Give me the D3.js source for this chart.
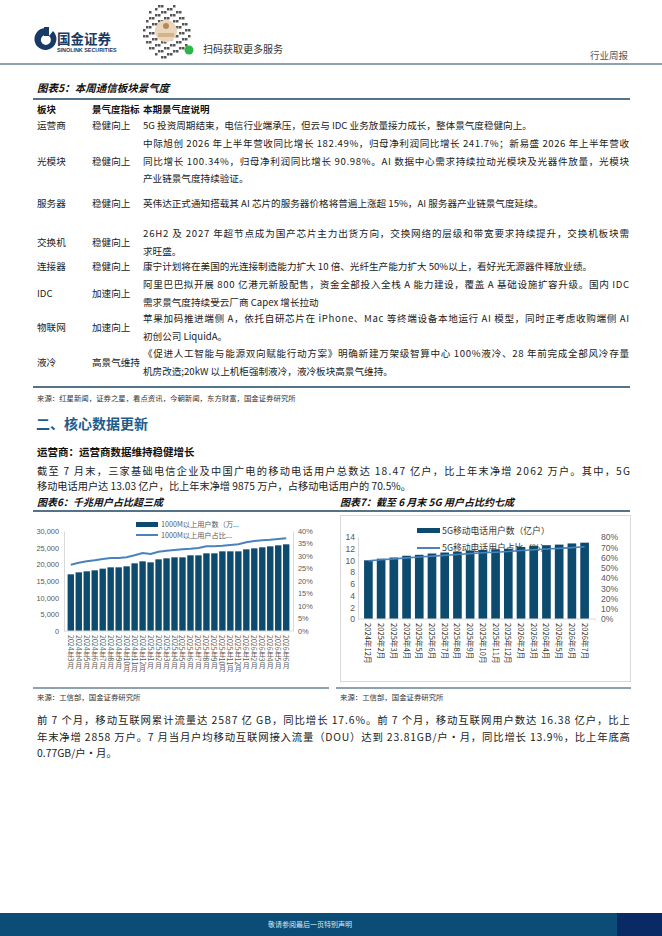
<!DOCTYPE html>
<html lang="zh">
<head>
<meta charset="UTF-8">
<title>行业周报</title>
<script src="https://d3js.org/d3.v7.min.js"></script>
<style>
  body { margin: 0; background: #fff; }
  svg { display: block; font-family: "Noto Sans CJK SC", "Noto Sans", sans-serif; }
  .body { font-size: 9.6px; fill: #222; }
  .tick text { fill: #595959; }
</style>
</head>
<body>
<svg id="page" width="662" height="936"></svg>
<script>
// ---- data: 图表6 千兆用户 ----
const months6 = ["2024年3月","2024年4月","2024年5月","2024年6月","2024年7月","2024年8月","2024年9月","2024年10月","2024年11月","2024年12月",
  "2025年1月","2025年2月","2025年3月","2025年4月","2025年5月","2025年6月","2025年7月","2025年8月","2025年9月","2025年10月","2025年11月","2025年12月",
  "2026年1月","2026年2月","2026年3月","2026年4月","2026年5月","2026年6月"];
const gigaUsers = [17000,17600,17900,18200,18700,19100,19100,19400,20300,20900,20600,21500,21800,22100,22100,22700,22700,23300,23300,23900,23900,23900,24500,24800,25100,25400,25700,26000];
const gigaShare = [0.265,0.273,0.279,0.283,0.288,0.292,0.292,0.295,0.303,0.312,0.308,0.317,0.321,0.324,0.327,0.329,0.332,0.339,0.339,0.341,0.344,0.347,0.355,0.360,0.363,0.365,0.368,0.371];

// ---- data: 图表7 5G用户 ----
const months7 = ["2024年12月","2025年2月","2025年3月","2025年4月","2025年5月","2025年6月","2025年7月","2025年8月","2025年9月","2025年10月","2025年11月","2025年12月",
  "2026年2月","2026年3月","2026年4月","2026年5月","2026年6月","2026年7月"];
const users5g = [10.02,10.3,10.5,10.8,10.96,11.18,11.35,11.5,11.7,11.8,11.9,12.0,12.3,12.5,12.6,12.7,12.9,13.03];
const share5g = [0.567,0.578,0.587,0.596,0.605,0.613,0.621,0.630,0.638,0.646,0.651,0.658,0.668,0.676,0.683,0.689,0.696,0.705];

// ---- table: 图表5 ----
const sectors = ["运营商","光模块","服务器","交换机","连接器","IDC","物联网","液冷"];
const indicators = ["稳健向上","稳健向上","稳健向上","稳健向上","稳健向上","加速向上","加速向上","高景气维持"];
const notes = [
  ["5G 投资周期结束，电信行业端承压，但云与 IDC 业务放量接力成长，整体景气度稳健向上。"],
  ["中际旭创 2026 年上半年营收同比增长 182.49%，归母净利润同比增长 241.7%；新易盛 2026 年上半年营收",
   "同比增长 100.34%，归母净利润同比增长 90.98%。AI 数据中心需求持续拉动光模块及光器件放量，光模块",
   "产业链景气度持续验证。"],
  ["英伟达正式通知搭载其 AI 芯片的服务器价格将普遍上涨超 15%，AI 服务器产业链景气度延续。"],
  ["26H2 及 2027 年超节点成为国产芯片主力出货方向，交换网络的层级和带宽要求持续提升，交换机板块需",
   "求旺盛。"],
  ["康宁计划将在美国的光连接制造能力扩大 10 倍、光纤生产能力扩大 50%以上，看好光无源器件释放业绩。"],
  ["阿里巴巴拟开展 800 亿港元新股配售，资金全部投入全栈 A 能力建设，覆盖 A 基础设施扩容升级。国内 IDC",
   "需求景气度持续受云厂商 Capex 增长拉动"],
  ["苹果加码推进端侧 A，依托自研芯片在 iPhone、Mac 等终端设备本地运行 AI 模型，同时正考虑收购端侧 AI",
   "初创公司 LiquidA。"],
  ["《促进人工智能与能源双向赋能行动方案》明确新建万架级智算中心 100%液冷、28 年前完成全部风冷存量",
   "机房改造;20kW 以上机柜强制液冷，液冷板块高景气维持。"]
];
const rowFirstLine = [129, 147, 207, 237, 270, 288, 322, 357];

const para1 = ["截至 7 月末，三家基础电信企业及中国广电的移动电话用户总数达 18.47 亿户，比上年末净增 2062 万户。其中，5G",
  "移动电话用户达 13.03 亿户，比上年末净增 9875 万户，占移动电话用户的 70.5%。"];
const para2 = ["前 7 个月，移动互联网累计流量达 2587 亿 GB，同比增长 17.6%。前 7 个月，移动互联网用户数达 16.38 亿户，比上",
  "年末净增 2858 万户。7 月当月户均移动互联网接入流量（DOU）达到 23.81GB/户·月，同比增长 13.9%，比上年底高",
  "0.77GB/户·月。"];

const BAR = "#0c4a6e", LINE = "#4a82be", DARK = "#1d4560";
const svg = d3.select("#page");

// helper for a block of text lines; full lines stretched to width like the justified original
function textBlock(g, lines, x, y0, lh, width, cls, size) {
  lines.forEach((s, i) => {
    const t = g.append("text").attr("class", cls).attr("x", x).attr("y", y0 + i * lh)
      .style("font-size", size + "px").text(s);
    if (width && i < lines.length - 1) t.attr("textLength", width).attr("lengthAdjust", "spacing");
  });
}

// ---------- header ----------
const hdr = svg.append("g");
hdr.append("path").attr("d", "M45,28 a11,11 0 1,0 8,3 l-4,5 a5,5 0 1,1 -4,-1 z").attr("fill", "#183a66");
hdr.append("rect").attr("x", 44).attr("y", 27).attr("width", 5).attr("height", 9).attr("fill", "#183a66");
hdr.append("text").attr("x", 57).attr("y", 44).style("font-size", "13.5px").style("font-weight", 700)
  .attr("fill", "#183a66").text("国金证券");
hdr.append("text").attr("x", 57).attr("y", 52).style("font-size", "5.4px").style("font-weight", 700)
  .attr("fill", "#183a66").style("font-family", "Liberation Sans, sans-serif").text("SINOLINK SECURITIES");

// QR decoration
const qr = hdr.append("g");
for (let r = 0; r < 18; r++) for (let c = 0; c < 16; c++) {
  const dx = c - 7.5, dy = r - 8.5;
  if (dx * dx / 64 + dy * dy / 81 > 1) continue;
  if (((r * 7 + c * 11) % 5) > 1) continue;
  qr.append("rect").attr("x", 143 + c * 3).attr("y", 5 + r * 3).attr("width", 2.5).attr("height", 2.5).attr("fill", "#555");
}
qr.append("circle").attr("cx", 166).attr("cy", 31).attr("r", 11).attr("fill", "#e9d6bd");
qr.append("circle").attr("cx", 166).attr("cy", 26).attr("r", 3).attr("fill", "#b48a5a");
qr.append("rect").attr("x", 158).attr("y", 33).attr("width", 16).attr("height", 4).attr("fill", "#d7b487");
qr.append("circle").attr("cx", 189).attr("cy", 50).attr("r", 4.5).attr("fill", "#2db54a");
hdr.append("text").attr("x", 203).attr("y", 53).style("font-size", "10px").attr("fill", "#333").text("扫码获取更多服务");
hdr.append("text").attr("x", 628).attr("y", 59).attr("text-anchor", "end").style("font-size", "9.5px")
  .attr("fill", "#555").text("行业周报");
hdr.append("line").attr("x1", 0).attr("x2", 662).attr("y1", 64).attr("y2", 64).attr("stroke", DARK).attr("stroke-width", 1);

// ---------- 图表5 table ----------
const tb = svg.append("g");
tb.append("text").attr("x", 37).attr("y", 92).style("font-size", "10.5px").style("font-weight", 700)
  .style("font-style", "italic").attr("fill", "#111").text("图表5：本周通信板块景气度");
tb.append("line").attr("x1", 33).attr("x2", 630).attr("y1", 99).attr("y2", 99).attr("stroke", DARK).attr("stroke-width", 1.4);
[["板块", 37], ["景气度指标", 92], ["本期景气度说明", 143]].forEach(([s, x]) =>
  tb.append("text").attr("x", x).attr("y", 113).style("font-size", "9.5px").style("font-weight", 700).attr("fill", "#111").text(s));
sectors.forEach((s, i) => {
  const n = notes[i].length, y0 = rowFirstLine[i];
  const mid = y0 + (n - 1) * 17.5 / 2;
  tb.append("text").attr("class", "body").attr("x", 37).attr("y", mid).text(s);
  tb.append("text").attr("class", "body").attr("x", 92).attr("y", mid).text(indicators[i]);
  textBlock(tb, notes[i], 143, y0, 17.5, 486, "body", 9.6);
});
tb.append("line").attr("x1", 33).attr("x2", 630).attr("y1", 387).attr("y2", 387).attr("stroke", DARK).attr("stroke-width", 1.4);
tb.append("text").attr("x", 37).attr("y", 401).style("font-size", "7.4px").attr("fill", "#333")
  .text("来源：红星新闻，证券之星，看点资讯，今朝新闻，东方财富，国金证券研究所");

// ---------- section text ----------
svg.append("text").attr("x", 36).attr("y", 429).style("font-size", "14px").style("font-weight", 700)
  .attr("fill", "#1f5c8a").text("二、核心数据更新");
svg.append("text").attr("x", 37).attr("y", 456).style("font-size", "10.5px").style("font-weight", 700)
  .attr("fill", "#111").text("运营商：运营商数据维持稳健增长");
textBlock(svg, para1, 37, 474.5, 15.5, 593, "body", 10.2);
textBlock(svg, para2, 37, 724, 16.5, 593, "body", 10.4);

// chart titles
[["图表6：千兆用户占比超三成", 37], ["图表7：截至 6 月末 5G 用户占比约七成", 340]].forEach(([s, x]) =>
  svg.append("text").attr("x", x).attr("y", 505.5).style("font-size", "10px").style("font-weight", 700)
    .style("font-style", "italic").attr("fill", "#111").text(s));
svg.append("line").attr("x1", 33).attr("x2", 630).attr("y1", 511).attr("y2", 511).attr("stroke", DARK).attr("stroke-width", 1.4);
[[33, 329], [336, 631]].forEach(([a, b]) => {
  svg.append("line").attr("x1", a).attr("x2", b).attr("y1", 688).attr("y2", 688).attr("stroke", DARK).attr("stroke-width", 1);
  svg.append("text").attr("x", a + 4).attr("y", 700).style("font-size", "7.4px").attr("fill", "#333").text("来源：工信部，国金证券研究所");
});

// ---------- 图表6 ----------
{
  const g = svg.append("g");
  const x = d3.scaleBand().domain(months6).range([66, 291]).padding(0.2);
  const y = d3.scaleLinear().domain([0, 30000]).range([631, 531]);
  const y2 = d3.scaleLinear().domain([0, 0.4]).range([631, 531]);

  const ax = g.append("g").attr("transform", "translate(64,0)")
    .call(d3.axisLeft(y).tickValues(d3.range(0, 30001, 5000)).tickFormat(d3.format(",")).tickSize(0).tickPadding(5));
  const ax2 = g.append("g").attr("transform", "translate(293,0)")
    .call(d3.axisRight(y2).tickValues(d3.range(0, 0.401, 0.05)).tickFormat(d3.format(".0%")).tickSize(0).tickPadding(5));
  [ax, ax2].forEach(a => { a.selectAll("text").style("font-size", "7.4px"); a.select(".domain").attr("stroke", "#d9d9d9"); });

  g.selectAll("rect.bar").data(months6).join("rect").attr("class", "bar")
    .attr("x", d => x(d)).attr("width", x.bandwidth())
    .attr("y", (d, i) => y(gigaUsers[i])).attr("height", (d, i) => y(0) - y(gigaUsers[i])).attr("fill", BAR);
  g.append("line").attr("x1", 64).attr("x2", 293).attr("y1", 631).attr("y2", 631).attr("stroke", "#d9d9d9");
  g.append("path").datum(gigaShare)
    .attr("d", d3.line().x((d, i) => x(months6[i]) + x.bandwidth() / 2).y(d => y2(d)))
    .attr("fill", "none").attr("stroke", LINE).attr("stroke-width", 2);

  g.selectAll("text.xl").data(months6).join("text").attr("class", "xl")
    .attr("x", d => x(d) + x.bandwidth() / 2).attr("y", 635)
    .style("writing-mode", "vertical-rl").style("font-size", "7px").attr("fill", "#595959").text(d => d);

  g.append("rect").attr("x", 136).attr("y", 522).attr("width", 22).attr("height", 5).attr("fill", BAR);
  g.append("text").attr("x", 161).attr("y", 527).style("font-size", "7.2px").attr("fill", "#595959").text("1000M以上用户数（万...");
  g.append("line").attr("x1", 136).attr("x2", 158).attr("y1", 535).attr("y2", 535).attr("stroke", LINE).attr("stroke-width", 2);
  g.append("text").attr("x", 161).attr("y", 538).style("font-size", "7.2px").attr("fill", "#595959").text("1000M以上用户占比...");
}

// ---------- 图表7 ----------
{
  const g = svg.append("g");
  g.append("rect").attr("x", 340.5).attr("y", 515.5).attr("width", 290).attr("height", 166)
    .attr("fill", "none").attr("stroke", "#d9d9d9");
  const x = d3.scaleBand().domain(months7).range([360, 593]).padding(0.32);
  const y = d3.scaleLinear().domain([0, 14]).range([619, 537]);
  const y2 = d3.scaleLinear().domain([0, 0.8]).range([619, 537]);

  const ax = g.append("g").attr("transform", "translate(358,0)")
    .call(d3.axisLeft(y).tickValues(d3.range(0, 15, 2)).tickSize(0).tickPadding(3));
  const ax2 = g.append("g").attr("transform", "translate(598,0)")
    .call(d3.axisRight(y2).tickValues(d3.range(0, 0.801, 0.1)).tickFormat(d3.format(".0%")).tickSize(0).tickPadding(3));
  [ax, ax2].forEach(a => { a.selectAll("text").style("font-size", "8.6px").attr("fill", "#333"); });
  ax.select(".domain").attr("stroke", "#d9d9d9");
  ax2.select(".domain").remove();

  // legend sits under the bars, as in the original
  g.append("rect").attr("x", 417).attr("y", 528).attr("width", 23).attr("height", 5).attr("fill", BAR);
  g.append("text").attr("x", 442).attr("y", 534).style("font-size", "8.8px").attr("fill", "#333").text("5G移动电话用户数（亿户）");
  g.append("line").attr("x1", 417).attr("x2", 440).attr("y1", 548).attr("y2", 548).attr("stroke", LINE).attr("stroke-width", 2);
  g.append("text").attr("x", 442).attr("y", 551).style("font-size", "8.8px").attr("fill", "#333").text("5G移动电话用户占比（%）");

  g.selectAll("rect.bar").data(months7).join("rect").attr("class", "bar")
    .attr("x", d => x(d)).attr("width", x.bandwidth())
    .attr("y", (d, i) => y(users5g[i])).attr("height", (d, i) => y(0) - y(users5g[i])).attr("fill", BAR);
  g.append("line").attr("x1", 358).attr("x2", 596).attr("y1", 619).attr("y2", 619).attr("stroke", "#d9d9d9");
  g.append("path").datum(share5g)
    .attr("d", d3.line().x((d, i) => x(months7[i]) + x.bandwidth() / 2).y(d => y2(d)))
    .attr("fill", "none").attr("stroke", LINE).attr("stroke-width", 1.6);

  g.selectAll("text.xl").data(months7).join("text").attr("class", "xl")
    .attr("transform", d => `translate(${x(d) + x.bandwidth() / 2 - 3},623) rotate(90)`)
    .style("font-size", "7.6px").attr("fill", "#333").text(d => d);
}

// ---------- footer ----------
svg.append("rect").attr("x", 0).attr("y", 913).attr("width", 617).attr("height", 23).attr("fill", "#0b4d77");
svg.append("rect").attr("x", 617).attr("y", 913).attr("width", 45).attr("height", 23).attr("fill", "#0a2a66");
svg.append("text").attr("x", 310).attr("y", 927).attr("text-anchor", "middle").style("font-size", "7px")
  .attr("fill", "#dfe8ef").text("敬请参阅最后一页特别声明");
</script>
</body>
</html>
